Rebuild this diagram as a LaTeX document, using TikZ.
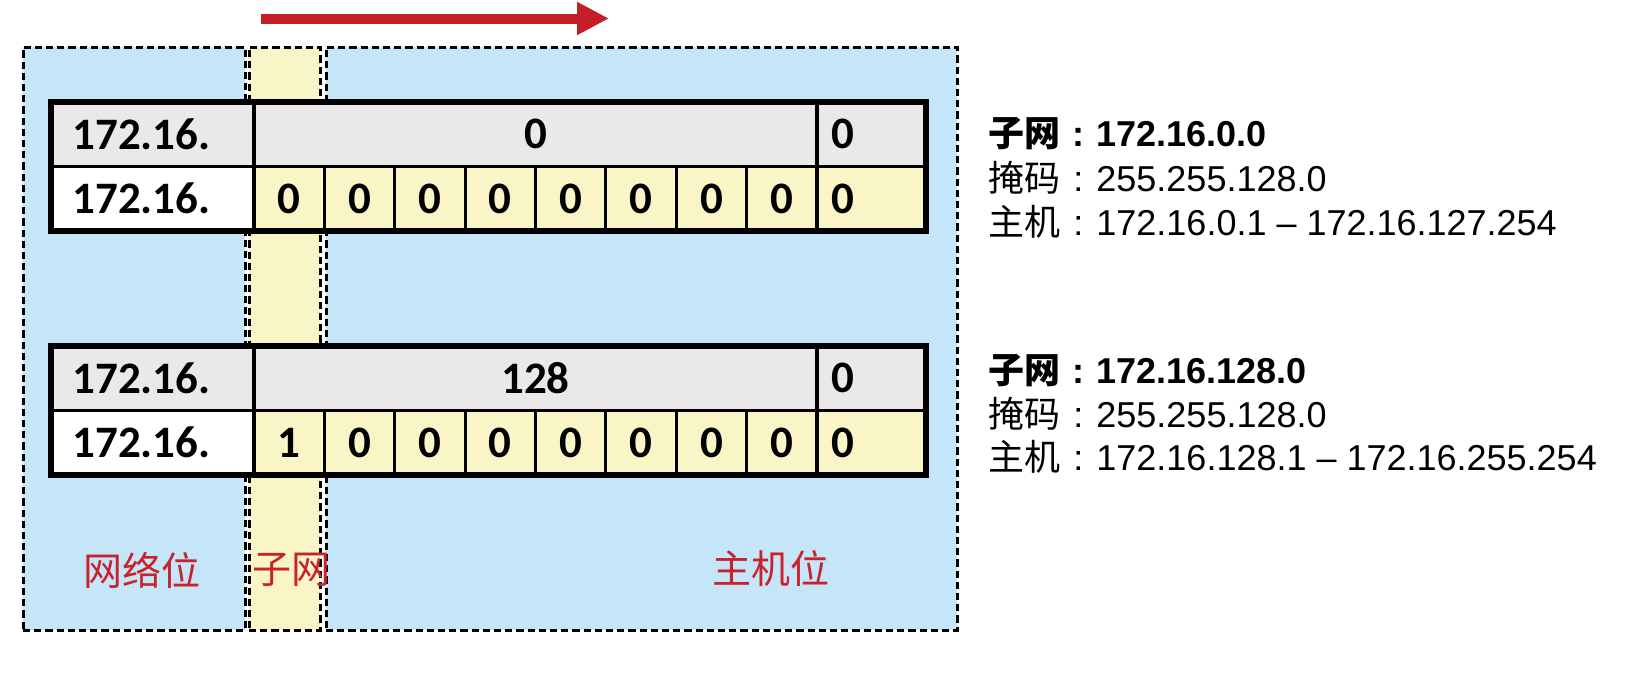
\documentclass[tikz,border=0pt]{standalone}
\usepackage{fontspec}
\usetikzlibrary{arrows.meta,calc}
\newfontfamily\tabfont{Carlito}
\newfontfamily\arialfont{Liberation Sans}
\newfontfamily\cjk{Noto Sans CJK SC}
\definecolor{regblue}{RGB}{197,230,248}
\definecolor{regyellow}{RGB}{249,245,199}
\definecolor{cellgray}{RGB}{234,232,233}
\definecolor{labred}{RGB}{200,35,45}
\definecolor{arrred}{RGB}{196,30,40}
\newcommand{\fwcolon}{\makebox[1em][c]{:}}
\newcommand{\drawiptable}[4]{%
  \node[graycell, minimum width=101.5pt] (#1net) at (51,#2) {};
  \node[tabtxt, anchor=west] (#1netx) at ([xshift=10.5pt]#1net.west) {172.16.};
  \node[graycell, tabtxt, minimum width=281.5pt] (#1mid) at (254,#2) {#3};
  \node[graycell, minimum width=54.5pt] (#1last) at (817,#2) {};
  \node[tabtxt, anchor=west] (#1lastx) at ([xshift=7pt]#1last.west) {0};
  \node[cellbox, fill=white, minimum width=101.5pt] (#1bnet) at (51,#2+64.5) {};
  \node[tabtxt, anchor=west] (#1bnetx) at ([xshift=10.5pt]#1bnet.west) {172.16.};
  \foreach \b [count=\i from 0] in {#4}
    \node[bitcell] (#1b\i) at (254+70.375*\i,#2+64.5) {\b};
  \node[cellbox, fill=regyellow, minimum width=54.5pt] (#1blast) at (817,#2+64.5) {};
  \node[tabtxt, anchor=west] (#1blastx) at ([xshift=7pt]#1blast.west) {0};
  \draw[outerframe] (#1net.north west) rectangle (#1blast.south east);
}
\begin{document}
\begin{tikzpicture}[x=0.5pt,y=-0.5pt,
 zonebox/.style={draw=black, dash pattern=on 3.6pt off 2pt, line width=1.5pt, inner sep=0, outer sep=0, anchor=north west, minimum height=291.5pt},
 cellbox/.style={draw=black, line width=1.6pt, inner sep=0, outer sep=0, anchor=north west, minimum height=32.25pt},
 graycell/.style={cellbox, fill=cellgray},
 tabtxt/.style={font=\tabfont\bfseries\fontsize{22.5}{27}\selectfont, inner sep=0},
 bitcell/.style={cellbox, tabtxt, fill=regyellow, minimum width=35.19pt},
 infotxt/.style={anchor=base west, inner sep=0, font=\arialfont\fontsize{18}{21}\selectfont},
 regionlbl/.style={text=labred, inner sep=0, font=\cjk\fontsize{19.5}{23}\selectfont},
 outerframe/.style={draw=black, line width=2.6pt}
]
\useasboundingbox (0,0) rectangle (1638,681);

% arrow
\coordinate (arrS) at (261,18.5);
\coordinate (arrE) at (609,18.5);
\draw[arrred, line width=5pt, -{Triangle[length=16pt,width=15.5pt]}] (arrS) -- (arrE);

% zones
\node[zonebox, fill=regblue, minimum width=111pt] (netzone) at (23,47) {};
\node[zonebox, fill=regyellow, minimum width=35.5pt] (subzone) at (249,47) {};
\node[zonebox, fill=regblue, minimum width=315.5pt] (hostzone) at (326,47) {};

% tables
\drawiptable{ta}{102}{0}{0,0,0,0,0,0,0,0}
\drawiptable{tb}{346}{128}{1,0,0,0,0,0,0,0}

% zone labels
\node[regionlbl] (netlbl) at (142,570) {网络位};
\node[regionlbl] (sublbl) at (291,570) {子网};
\node[regionlbl] (hostlbl) at (771,569) {主机位};

% info text
\node[infotxt] (s1a) at (988,146.5) {\bfseries{\cjk 子网}\fwcolon 172.16.0.0};
\node[infotxt] (s1b) at (988,191) {{\cjk 掩码}\fwcolon 255.255.128.0};
\node[infotxt] (s1c) at (988,235) {{\cjk 主机}\fwcolon 172.16.0.1 – 172.16.127.254};
\node[infotxt] (s2a) at (988,383) {\bfseries{\cjk 子网}\fwcolon 172.16.128.0};
\node[infotxt] (s2b) at (988,427) {{\cjk 掩码}\fwcolon 255.255.128.0};
\node[infotxt] (s2c) at (988,470) {{\cjk 主机}\fwcolon 172.16.128.1 – 172.16.255.254};
\end{tikzpicture}
\end{document}
